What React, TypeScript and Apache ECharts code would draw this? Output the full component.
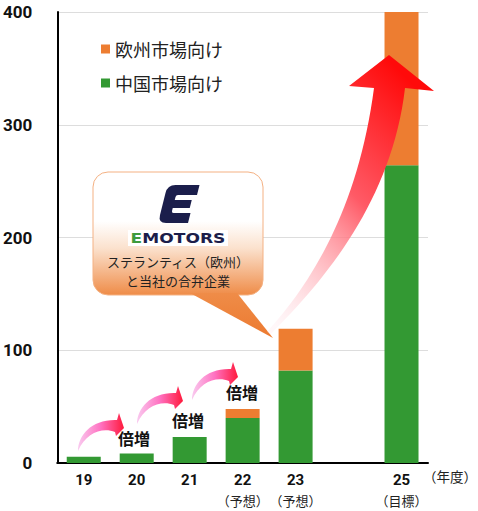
import React, { useEffect, useRef } from 'react';
import * as echarts from 'echarts';

// ---- data ----
const categories = ['19', '20', '21', '22', '23', '', '25'];
const subLabels = ['', '', '', '（予想）', '（予想）', '', '（目標）'];
const chinaValues = [5.5, 8.5, 23, 40, 82, null, 264];
const europeValues = [null, null, null, 8, 37, null, 136];
const chinaName = '中国市場向け';
const europeName = '欧州市場向け';
const yMin = 0;
const yMax = 400;
const yInterval = 100;
const doubleLabel = '倍増';
const calloutLines = ['ステランティス（欧州）', 'と当社の合弁企業'];
const unitLabel = '（年度）';

const GREEN = '#339933';
const ORANGE = '#ED7D31';
const NAVY = '#1B1E4B';

echarts.graphic.registerShape(
  'smallArrow',
  echarts.graphic.extendPath(
    'M 0 0 C 0 -16 14 -32 39 -31 L 41 -38 L 46 -23 L 38 -15 L 37 -19 C 24 -24 8 -18 0 0 Z',
    {}
  )
);
echarts.graphic.registerShape(
  'bigArrow',
  echarts.graphic.extendPath(
    'M 267 332 C 310 285 358 210 374 88 L 349 86 L 389 55 L 434 91 L 405 88 C 392 200 325 280 271 334 Z',
    {}
  )
);
echarts.graphic.registerShape(
  'logoE',
  echarts.graphic.extendPath(
    'M 17.5 0 L 41.5 0 L 39 10 L 20 10 Q 18 10 17.5 12 L 16.75 15 L 33.75 15 L 31.75 23 L 14.75 23 L 14 26 Q 13.5 28 15.5 28 L 32.5 28 L 30 38 L 8 38 Q 0 38 2 30 L 7.5 8 Q 9.5 0 17.5 0 Z',
    {}
  )
);

export default function App() {
  const ref = useRef<HTMLDivElement>(null);
  useEffect(() => {
    document.body.style.margin = '0';
    const chart = echarts.init(ref.current!, undefined, { renderer: 'svg' });
    const LG = echarts.graphic.LinearGradient;
    const smallArrowFill = () =>
      new LG(0, 0, 1, 0, [
        { offset: 0, color: '#F9CBF0' },
        { offset: 0.5, color: '#FF70C0' },
        { offset: 1, color: '#FF1A3C' },
      ]);
    const smallArrowPos = [
      [78, 451],
      [137, 424],
      [192, 400],
    ];
    const doublePos = [
      [134, 438],
      [188, 420],
      [242, 392],
    ];
    const graphic: any[] = [];
    smallArrowPos.forEach((p) => {
      graphic.push({ type: 'smallArrow', x: p[0], y: p[1], z: 100, style: { fill: smallArrowFill() } });
    });
    doublePos.forEach((p) => {
      graphic.push({
        type: 'text',
        x: p[0],
        y: p[1],
        z: 100,
        style: {
          text: doubleLabel,
          align: 'center',
          verticalAlign: 'middle',
          fontSize: 16,
          fontWeight: 'bold',
          fill: '#111',
          fontFamily: "'Noto Sans CJK JP', sans-serif",
        },
      });
    });
    // callout
    graphic.push({
      type: 'rect',
      z: 100,
      shape: { x: 93, y: 172, width: 170, height: 123, r: 15 },
      style: {
        fill: new LG(0, 0, 0, 1, [
          { offset: 0, color: '#FFFFFF' },
          { offset: 0.4, color: '#FFFFFF' },
          { offset: 0.62, color: '#FBE1CD' },
          { offset: 1, color: '#EF8C48' },
        ]),
        stroke: '#F4B183',
        lineWidth: 1,
      },
    });
    graphic.push({
      type: 'polygon',
      z: 101,
      shape: { points: [[190, 293], [237, 293], [273, 338]] },
      style: {
        fill: new LG(0, 0, 0, 1, [
          { offset: 0, color: '#EF8C48' },
          { offset: 1, color: '#EC7A30' },
        ]),
      },
    });
    graphic.push({ type: 'logoE', x: 158, y: 185, z: 102, style: { fill: NAVY } });
    graphic.push({ type: 'rect', z: 102, shape: { x: 128, y: 230, width: 100, height: 16 }, style: { fill: '#FFFFFF' } });
    graphic.push({
      type: 'text',
      x: 178,
      y: 238.5,
      z: 103,
      scaleX: 1.22,
      style: {
        text: '{e|E}{m|MOTORS}',
        align: 'center',
        verticalAlign: 'middle',
        fontSize: 14,
        fontWeight: 'bold',
        fontFamily: "'DejaVu Sans', sans-serif",
        rich: {
          e: { fill: '#3E9B3E', fontSize: 14, fontWeight: 'bold', fontFamily: "'DejaVu Sans', sans-serif" },
          m: { fill: NAVY, fontSize: 14, fontWeight: 'bold', fontFamily: "'DejaVu Sans', sans-serif" },
        },
      },
    });
    calloutLines.forEach((t, i) => {
      graphic.push({
        type: 'text',
        x: 178,
        y: 261 + i * 19,
        z: 103,
        style: {
          text: t,
          align: 'center',
          verticalAlign: 'middle',
          fontSize: 13,
          fill: '#222',
          fontFamily: "'Noto Sans CJK JP', sans-serif",
        },
      });
    });
    graphic.push({
      type: 'bigArrow',
      z: 104,
      style: {
        fill: new LG(0.7, 0, 0.1, 1, [
          { offset: 0, color: '#FF0A0A' },
          { offset: 0.45, color: '#FF5A66' },
          { offset: 1, color: 'rgba(255,225,232,0.25)' },
        ]),
      },
    });
    graphic.push({
      type: 'text',
      x: 423,
      y: 476,
      z: 100,
      style: {
        text: unitLabel,
        align: 'left',
        verticalAlign: 'middle',
        fontSize: 13.5,
        fill: '#222',
        fontFamily: "'Noto Sans CJK JP', sans-serif",
      },
    });

    chart.setOption({
      animation: false,
      textStyle: { fontFamily: "'Noto Sans CJK JP', sans-serif" },
      grid: { left: 57, right: 50, top: 12, bottom: 48 },
      legend: {
        orient: 'vertical',
        left: 96,
        top: 35,
        itemWidth: 9,
        itemHeight: 9,
        itemGap: 16,
        icon: 'rect',
        data: [europeName, chinaName],
        textStyle: { fontSize: 18, color: '#222', fontFamily: "'Noto Sans CJK JP', sans-serif" },
      },
      xAxis: {
        type: 'category',
        data: categories,
        axisLine: { lineStyle: { color: '#000', width: 2 } },
        axisTick: { show: false },
        axisLabel: {
          margin: 8,
          interval: 0,
          formatter: (v: string, i: number) =>
            '{m|' + v + '}' + (subLabels[i] ? '\n{s|' + subLabels[i] + '}' : ''),
          rich: {
            m: {
              fontSize: 15,
              fontWeight: 'bold',
              color: '#111',
              lineHeight: 18,
              fontFamily: "'Liberation Sans Narrow', 'Roboto', sans-serif",
            },
            s: {
              fontSize: 13,
              color: '#222',
              lineHeight: 22,
              fontFamily: "'Noto Sans CJK JP', sans-serif",
            },
          },
        },
      },
      yAxis: {
        type: 'value',
        min: yMin,
        max: yMax,
        interval: yInterval,
        axisLine: { show: true, lineStyle: { color: '#000', width: 2 } },
        axisTick: { show: false },
        splitLine: { lineStyle: { color: '#DDDDDD', width: 1 } },
        axisLabel: {
          margin: 25,
          fontSize: 17,
          fontWeight: 'bold',
          color: '#111',
          fontFamily: "'Liberation Sans Narrow', 'Roboto', sans-serif",
        },
      },
      series: [
        {
          name: chinaName,
          type: 'bar',
          stack: 'total',
          barWidth: 34,
          data: chinaValues,
          itemStyle: { color: GREEN },
        },
        {
          name: europeName,
          type: 'bar',
          stack: 'total',
          barWidth: 34,
          data: europeValues,
          itemStyle: { color: ORANGE },
        },
      ],
      graphic,
    });
    return () => chart.dispose();
  }, []);
  return <div ref={ref} style={{ width: 478, height: 511 }} />;
}
